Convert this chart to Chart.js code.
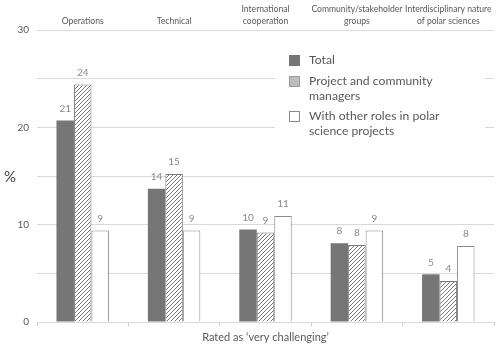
<!DOCTYPE html>
<html>
<head>
<meta charset="utf-8">
<script src="https://cdn.jsdelivr.net/npm/chart.js@4/dist/chart.umd.min.js"></script>
<style>
html,body{margin:0;padding:0;background:#fff;}
#wrap{width:500px;height:344px;position:relative;}
</style>
</head>
<body>
<div id="wrap"><canvas id="c" width="500" height="344"></canvas></div>
<script>
const categories = [
  ['Operations'],
  ['Technical'],
  ['International', 'cooperation'],
  ['Community/stakeholder', 'groups'],
  ['Interdisciplinary nature', 'of polar sciences']
];
const seriesNames = ['Total', 'Project and community managers', 'With other roles in polar science projects'];
const totalValues = [20.7, 13.7, 9.5, 8.1, 4.9];
const managerValues = [24.4, 15.2, 9.2, 7.9, 4.2];
const otherValues = [9.4, 9.4, 10.9, 9.4, 7.8];
const yTicks = [0, 10, 20, 30];
const xTitle = 'Rated as \u2018very challenging\u2019';
const yTitle = '%';

const FONT = 'Lato, "Open Sans", sans-serif';

function hatch() {
  const p = document.createElement('canvas');
  p.width = 4; p.height = 4;
  const g = p.getContext('2d');
  g.fillStyle = '#fff';
  g.fillRect(0, 0, 4, 4);
  g.strokeStyle = '#7a7a7a';
  g.lineWidth = 1;
  g.beginPath();
  g.moveTo(-1, 5); g.lineTo(5, -1);
  g.moveTo(-1, 1); g.lineTo(1, -1);
  g.moveTo(3, 5); g.lineTo(5, 3);
  g.stroke();
  return g.createPattern(p, 'repeat');
}
const hatchPattern = hatch();

const valueLabels = {
  id: 'valueLabels',
  afterDatasetsDraw(chart) {
    const ctx = chart.ctx;
    ctx.save();
    ctx.fillStyle = '#8a8a8a';
    ctx.font = '10px ' + FONT;
    ctx.textAlign = 'center';
    ctx.textBaseline = 'middle';
    chart.data.datasets.forEach((ds, i) => {
      chart.getDatasetMeta(i).data.forEach((bar, j) => {
        ctx.fillText(String(Math.round(ds.data[j])), bar.x, bar.y - 12);
      });
    });
    ctx.restore();
  }
};

const customLegend = {
  id: 'customLegend',
  afterDraw(chart) {
    const ctx = chart.ctx;
    ctx.save();
    ctx.fillStyle = '#fff';
    ctx.fillRect(275, 42, 210, 100);
    const items = [
      {fill: '#767676', stroke: '#767676', y: 55, lines: ['Total']},
      {fill: '#bdbdbd', stroke: '#9a9a9a', y: 76, lines: ['Project and community', 'managers']},
      {fill: '#ffffff', stroke: '#8a8a8a', y: 111, lines: ['With other roles in polar', 'science projects']}
    ];
    ctx.font = '12.2px ' + FONT;
    ctx.textBaseline = 'middle';
    ctx.textAlign = 'left';
    items.forEach(it => {
      ctx.fillStyle = it.fill;
      ctx.fillRect(289.5, it.y + 0.5, 10, 10);
      ctx.strokeStyle = it.stroke;
      ctx.lineWidth = 1;
      ctx.strokeRect(289.5, it.y + 0.5, 10, 10);
      ctx.fillStyle = '#595959';
      it.lines.forEach((l, k) => ctx.fillText(l, 309, it.y + 5 + k * 15.5));
    });
    // y title
    ctx.font = '15px ' + FONT;
    ctx.fillStyle = '#404040';
    ctx.textAlign = 'center';
    ctx.fillText(yTitle, 10, 177);
    ctx.restore();
  }
};

new Chart(document.getElementById('c'), {
  type: 'bar',
  data: {
    labels: categories,
    datasets: [
      {label: seriesNames[0], data: totalValues, backgroundColor: '#767676', borderColor: '#767676', borderWidth: 0},
      {label: seriesNames[1], data: managerValues, backgroundColor: hatchPattern, borderColor: '#7a7a7a', borderWidth: 1},
      {label: seriesNames[2], data: otherValues, backgroundColor: '#ffffff', borderColor: '#8c8c8c', borderWidth: 1}
    ]
  },
  options: {
    responsive: false,
    animation: false,
    devicePixelRatio: 1,
    layout: {padding: {left: 0, right: 6, top: 0, bottom: 0}},
    datasets: {bar: {categoryPercentage: 0.574, barPercentage: 1}},
    plugins: {legend: {display: false}, tooltip: {enabled: false}},
    scales: {
      x: {
        type: 'category',
        position: 'bottom',
        grid: {offset: true, drawOnChartArea: false, drawTicks: true, tickLength: 4, color: '#d0d0d0'},
        border: {color: '#d9d9d9'},
        ticks: {display: false},
        title: {display: true, text: xTitle, color: '#595959', font: {family: FONT, size: 11}, padding: {top: 2, bottom: 0}},
        afterFit(a) { a.height = 22; }
      },
      xTop: {
        type: 'category',
        position: 'top',
        grid: {display: false},
        border: {display: false},
        ticks: {color: '#595959', font: {family: FONT, size: 8.6, lineHeight: 1.35}, padding: -5, maxRotation: 0, autoSkip: false},
        afterFit(a) { a.height = 30; }
      },
      y: {
        min: 0, max: 30,
        grid: {color: '#d9d9d9', drawTicks: false},
        border: {display: false},
        afterBuildTicks(a) {
          a.ticks = [0, 5, 10, 15, 20, 25, 30].map(v => ({value: v}));
        },
        ticks: {
          color: '#595959', font: {family: FONT, size: 10}, padding: 8,
          callback: v => yTicks.includes(v) ? String(v) : ''
        },
        afterFit(a) { a.width = 37; }
      }
    }
  },
  plugins: [valueLabels, customLegend]
});
</script>
</body>
</html>
